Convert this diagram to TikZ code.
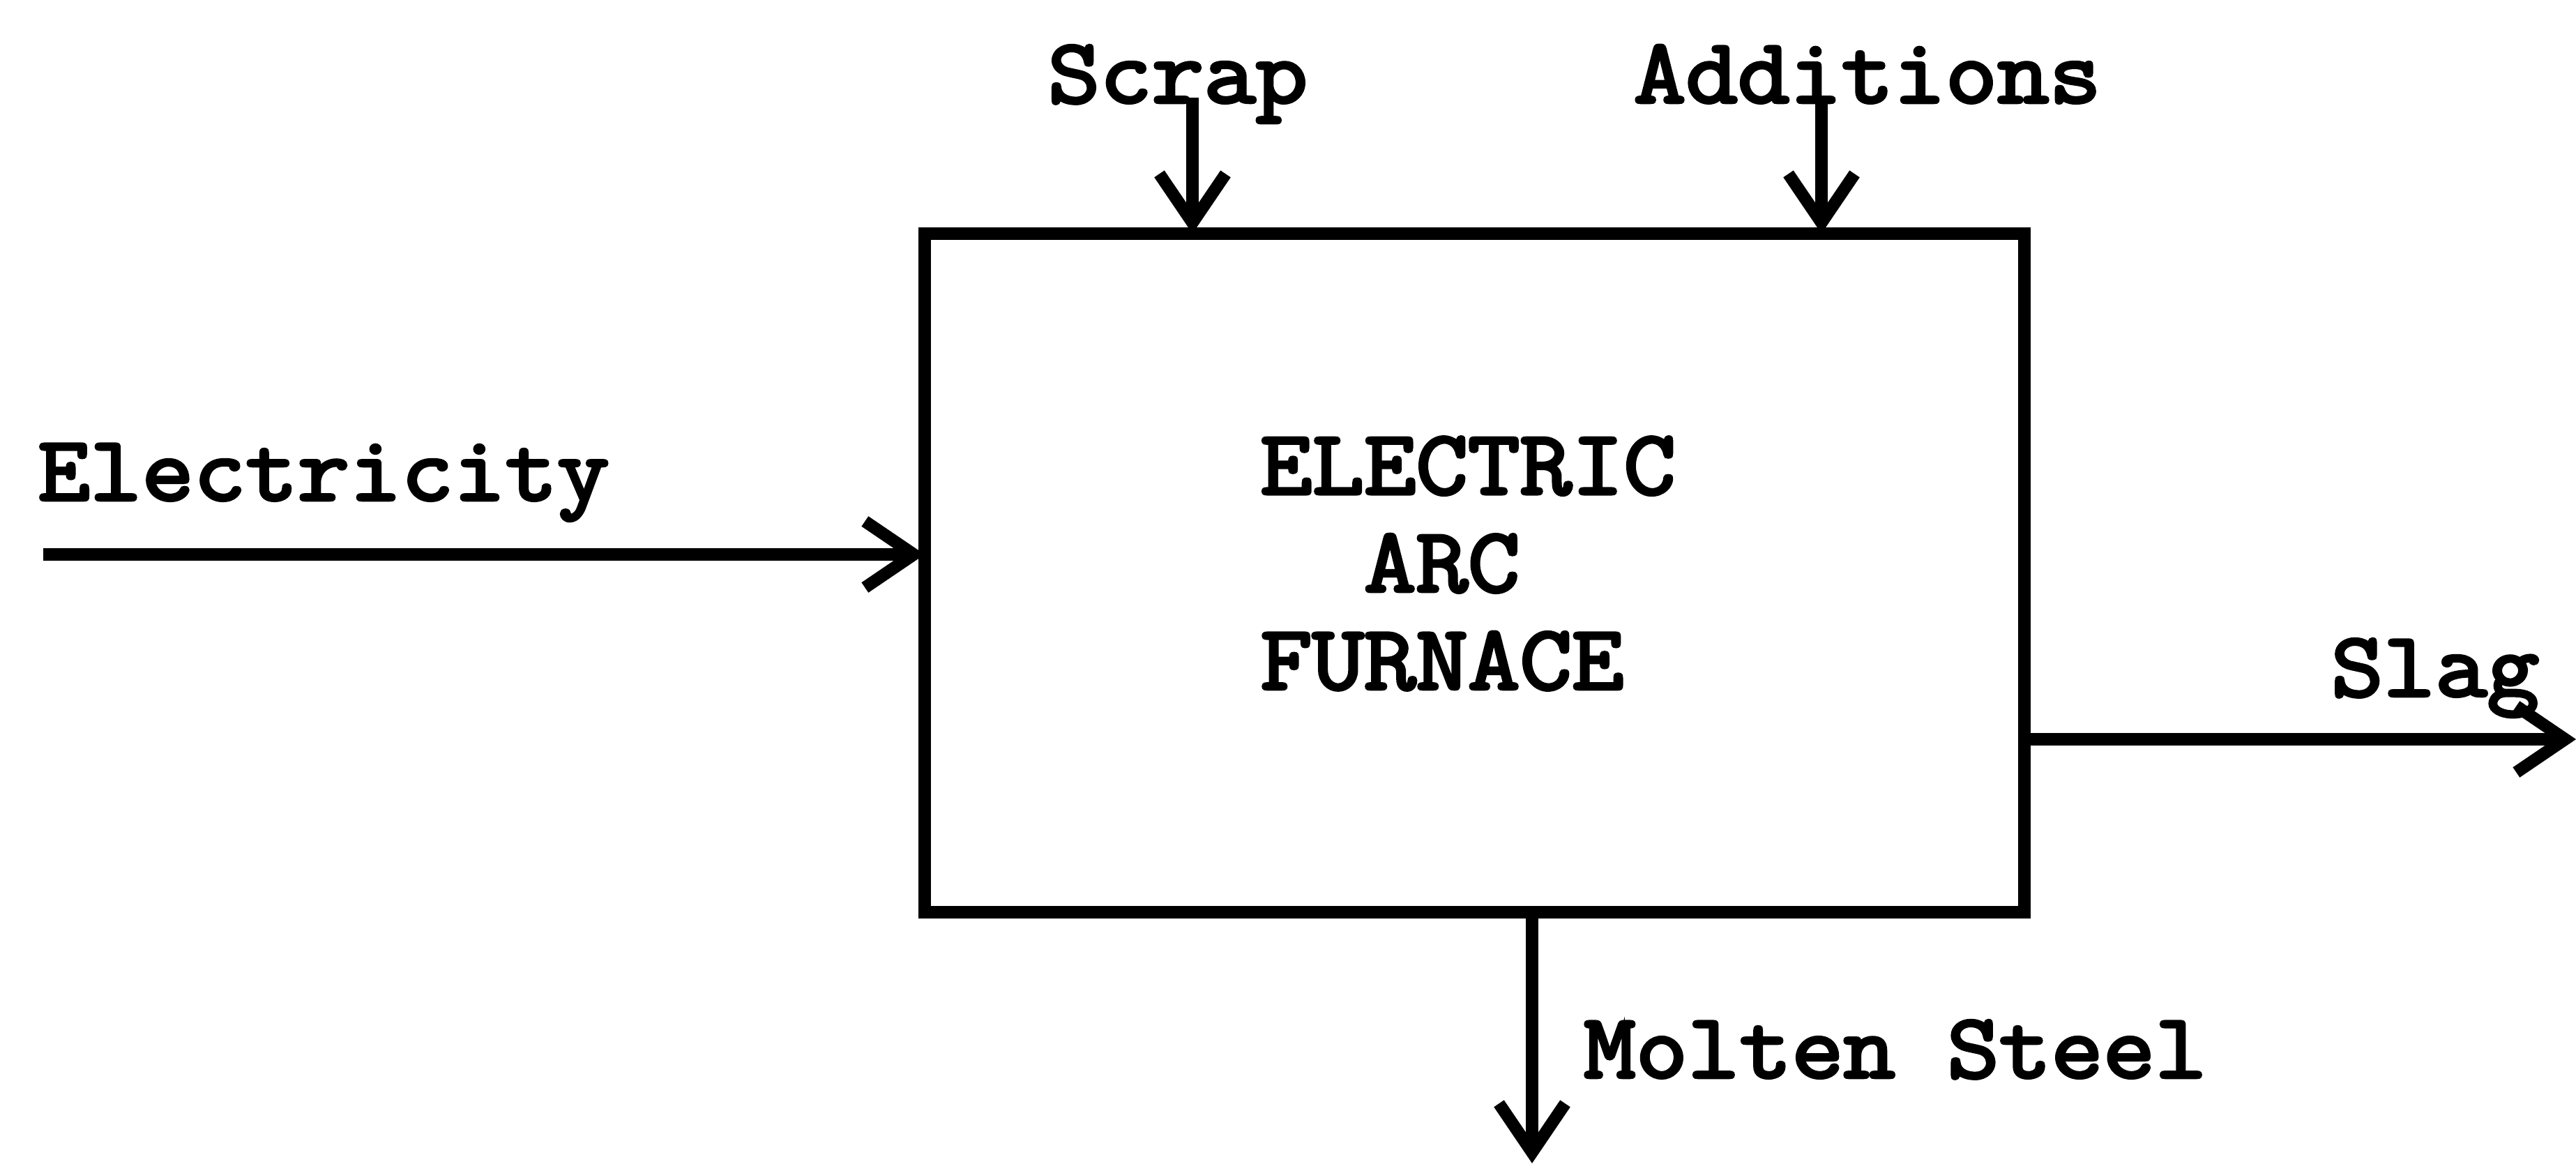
\documentclass[tikz,border=0pt]{standalone}
\usepackage{fontspec}
\usepackage{tikz}
\usetikzlibrary{positioning, calc, arrows.meta}
\newfontfamily\typewr{Latin Modern Mono}[FakeBold=3.5, FakeStretch=1.1]
\tikzset{
  flow/.style={line width=5pt, -{Straight Barb[length=0.7cm, width=0.95cm, line width=5pt]}},
  lbl/.style={inner sep=0pt, font=\typewr\fontsize{37.4}{39.8}\selectfont}
}

\begin{document}
\begin{tikzpicture}
          \useasboundingbox (0,0) rectangle (36.94,16.68);

          % Furnace
          \node[draw, line width=5pt, outer sep=0pt, minimum width=15.77cm, minimum height=9.73cm] (furnace) at (21.145,8.465) {};
          \node[lbl, align=left] (furnacetxt) at (21.05,8.60) {ELECTRIC\\\phantom{EL}ARC\\FURNACE};

          % Inputs
          \node[lbl, anchor=base] (scrap) at (16.89,15.21) {Scrap};
          \node[lbl, anchor=base] (additions) at (26.78,15.21) {Additions};
          \node[lbl, anchor=base] (electricity) at (4.64,9.51) {Electricity};
          \coordinate (scrapstart) at (17.10,15.28);
          \coordinate (addstart) at (26.12,15.22);
          \coordinate (elecstart) at (0.62,8.73);
          \draw[flow] (scrapstart) -- (scrapstart |- furnace.north);
          \draw[flow] (addstart) -- (addstart |- furnace.north);
          \draw[flow] (elecstart) -- (elecstart -| furnace.west);

          % Outputs
          \node[lbl, anchor=base] (slag) at (34.92,6.70) {Slag};
          \node[lbl, anchor=base] (molten) at (27.18,1.23) {Molten Steel};
          \coordinate (slagend) at (36.94,6.08);
          \coordinate (moltenend) at (21.97,0);
          \draw[flow] (slagend -| furnace.east) -- (slagend);
          \draw[flow] (moltenend |- furnace.south) -- (moltenend);
        \end{tikzpicture}
\end{document}
